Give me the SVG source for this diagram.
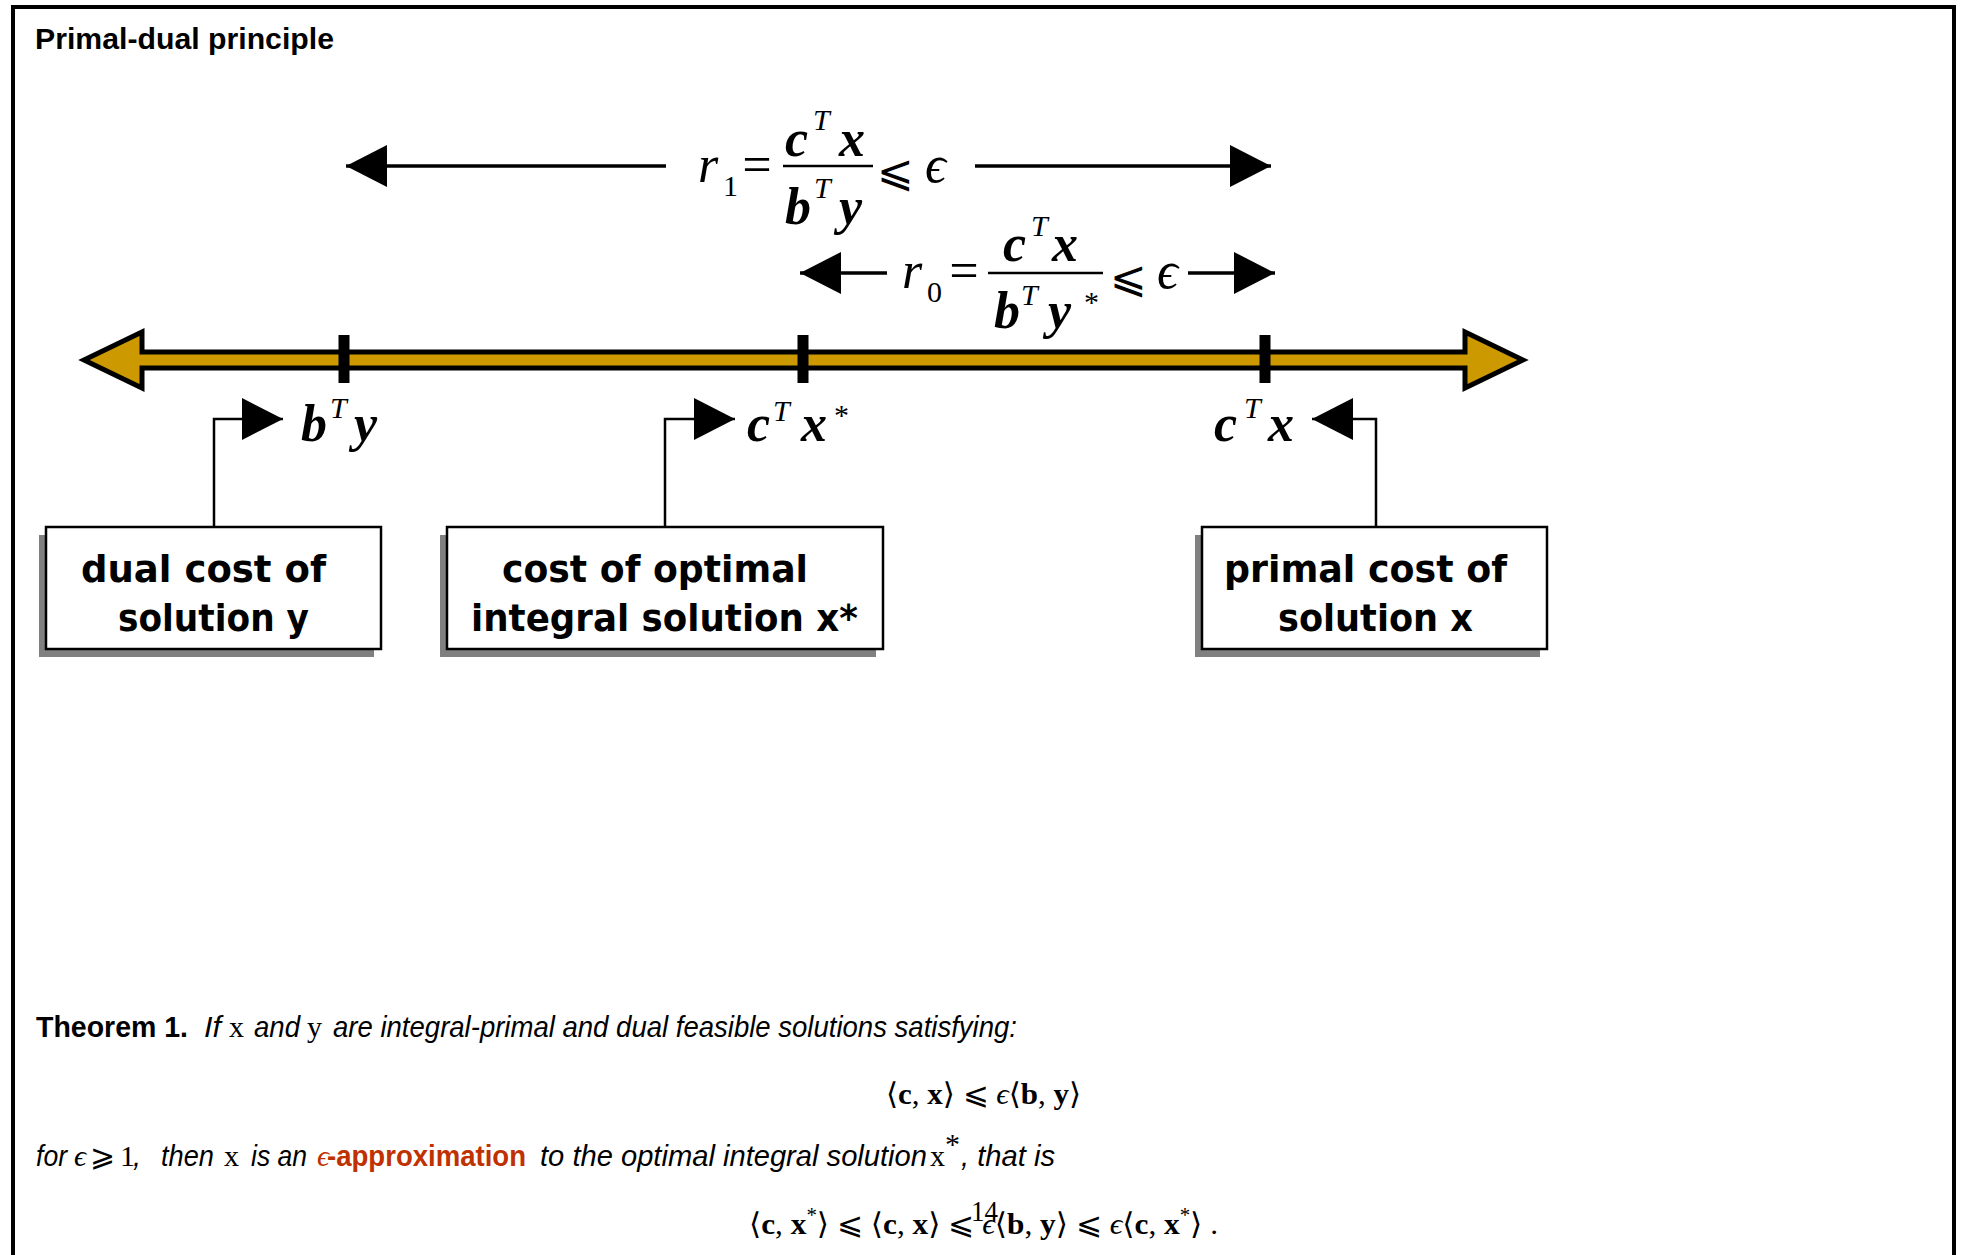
<svg xmlns="http://www.w3.org/2000/svg" width="1964" height="1255" viewBox="0 0 1964 1255">
<defs>
<marker id="ah" viewBox="0 0 41 42" refX="41" refY="21" markerWidth="41" markerHeight="42" markerUnits="userSpaceOnUse" orient="auto">
<path d="M0 0 L41 21 L0 42 Z" fill="#000"/>
</marker>
<style>
.mb{font-family:"Liberation Serif","DejaVu Serif",serif;font-style:italic;font-weight:bold;font-size:52px;fill:#000}
.mi{font-family:"Liberation Serif","DejaVu Serif",serif;font-style:italic;font-size:52px;fill:#000}
.sup{font-family:"Liberation Serif","DejaVu Serif",serif;font-style:italic;font-size:30px;fill:#000}
.sub{font-family:"Liberation Serif","DejaVu Serif",serif;font-size:30px;fill:#000}
.rel{font-family:"DejaVu Serif","DejaVu Sans",serif;font-size:44px;fill:#000}
.box{fill:#fff;stroke:#000;stroke-width:2.5}
.shadow{fill:#808080}
.lbl{font-family:"Comic Sans MS","DejaVu Sans",sans-serif;font-weight:bold;font-size:38px;fill:#000}
.conn{fill:none;stroke:#000;stroke-width:2.5}
.dim{fill:none;stroke:#000;stroke-width:3.5}
.bar{stroke:#000;stroke-width:2.5}
.tick{fill:#000}
.it{font-family:"Liberation Sans","DejaVu Sans",sans-serif;font-style:italic;font-size:29px;fill:#000}
.bd{font-family:"Liberation Sans","DejaVu Sans",sans-serif;font-weight:bold;font-size:29px;fill:#000}
.sm{font-family:"Liberation Serif","DejaVu Serif",serif;font-size:30px;fill:#000}
.red{fill:#BF3100}
</style>
</defs>
<rect width="1964" height="1255" fill="#fff"/>
<path d="M13 1255 V7 H1954 V1255" fill="none" stroke="#000" stroke-width="4"/>
<text id="title" class="bd" x="35" y="49" font-size="30" textLength="299" lengthAdjust="spacingAndGlyphs">Primal-dual principle</text>

<g id="axis">
<path d="M84 360 L142 332 L142 352 L1465 352 L1465 332 L1523 360 L1465 388 L1465 368 L142 368 L142 388 Z" fill="#CC9900" stroke="#000" stroke-width="5" stroke-linejoin="miter"/>
<rect class="tick" x="338.5" y="335" width="11" height="48"/>
<rect class="tick" x="797.5" y="335" width="11" height="48"/>
<rect class="tick" x="1259.5" y="335" width="11" height="48"/>
</g>

<g id="connectors">
<line class="dim" x1="666" y1="166" x2="346" y2="166" marker-end="url(#ah)"/>
<line class="dim" x1="975" y1="166" x2="1271" y2="166" marker-end="url(#ah)"/>
<line class="dim" x1="887" y1="273" x2="800" y2="273" marker-end="url(#ah)"/>
<line class="dim" x1="1188" y1="273" x2="1275" y2="273" marker-end="url(#ah)"/>
<path class="conn" d="M214 527 V419 H283" marker-end="url(#ah)"/>
<path class="conn" d="M665 527 V419 H735" marker-end="url(#ah)"/>
<path class="conn" d="M1376 527 V419 H1312" marker-end="url(#ah)"/>
</g>

<g id="r1">
<text class="mi" x="698" y="182">r</text>
<text class="sub" x="723" y="196">1</text>
<text class="mi" x="739" y="182" font-style="normal" font-size="58">=</text>
<line class="bar" x1="783" y1="166" x2="873" y2="166"/>
<text class="mb" x="785" y="156">c</text>
<text class="sup" x="813" y="130">T</text>
<text class="mb" x="839" y="156">x</text>
<text class="mb" x="785" y="224">b</text>
<text class="sup" x="814" y="198">T</text>
<text class="mb" x="839" y="224">y</text>
<text class="rel" x="877" y="186">⩽</text>
<text class="mi" x="925" y="182">ϵ</text>
</g>

<g id="r0">
<text class="mi" x="902" y="288">r</text>
<text class="sub" x="927" y="302">0</text>
<text class="mi" x="946" y="288" font-style="normal" font-size="58">=</text>
<line class="bar" x1="988" y1="273" x2="1103" y2="273"/>
<text class="mb" x="1003" y="261">c</text>
<text class="sup" x="1031" y="236">T</text>
<text class="mb" x="1052" y="261">x</text>
<text class="mb" x="994" y="328">b</text>
<text class="sup" x="1021" y="305">T</text>
<text class="mb" x="1048" y="328">y</text>
<text class="sub" x="1084" y="312">*</text>
<text class="rel" x="1110" y="292">⩽</text>
<text class="mi" x="1157" y="288">ϵ</text>
</g>

<g id="lbl-dual">
<text class="mb" x="301" y="441">b</text>
<text class="sup" x="330" y="418">T</text>
<text class="mb" x="354" y="441">y</text>
</g>
<g id="lbl-opt">
<text class="mb" x="747" y="441">c</text>
<text class="sup" x="773" y="421">T</text>
<text class="mb" x="801" y="441">x</text>
<text class="sub" x="834" y="425">*</text>
</g>
<g id="lbl-primal">
<text class="mb" x="1214" y="441">c</text>
<text class="sup" x="1244" y="418">T</text>
<text class="mb" x="1268" y="441">x</text>
</g>

<g id="node-dual">
<rect class="shadow" x="39" y="535" width="335" height="122"/>
<rect class="box" x="46" y="527" width="335" height="122"/>
<text class="lbl" x="81" y="582" textLength="245" lengthAdjust="spacingAndGlyphs">dual cost of</text>
<text class="lbl" x="118" y="631" textLength="191" lengthAdjust="spacingAndGlyphs">solution y</text>
</g>
<g id="node-opt">
<rect class="shadow" x="440" y="535" width="436" height="122"/>
<rect class="box" x="447" y="527" width="436" height="122"/>
<text class="lbl" x="502" y="582" textLength="306" lengthAdjust="spacingAndGlyphs">cost of optimal</text>
<text class="lbl" x="471" y="631" textLength="387" lengthAdjust="spacingAndGlyphs">integral solution x*</text>
</g>
<g id="node-primal">
<rect class="shadow" x="1195" y="535" width="345" height="122"/>
<rect class="box" x="1202" y="527" width="345" height="122"/>
<text class="lbl" x="1224" y="582" textLength="283" lengthAdjust="spacingAndGlyphs">primal cost of</text>
<text class="lbl" x="1278" y="631" textLength="195" lengthAdjust="spacingAndGlyphs">solution x</text>
</g>

<g id="theorem">
<text class="bd" x="36" y="1037" textLength="152" lengthAdjust="spacingAndGlyphs">Theorem 1.</text>
<text class="it" x="204" y="1037" textLength="17" lengthAdjust="spacingAndGlyphs">If</text>
<text class="sm" x="229" y="1037">x</text>
<text class="it" x="254" y="1037" textLength="46" lengthAdjust="spacingAndGlyphs">and</text>
<text class="sm" x="307" y="1037">y</text>
<text class="it" x="333" y="1037" textLength="684" lengthAdjust="spacingAndGlyphs">are integral-primal and dual feasible solutions satisfying:</text>

<text class="sm" x="886" y="1104" textLength="195" lengthAdjust="spacingAndGlyphs">⟨<tspan font-weight="bold">c</tspan>, <tspan font-weight="bold">x</tspan>⟩ ⩽ <tspan font-style="italic">ϵ</tspan>⟨<tspan font-weight="bold">b</tspan>, <tspan font-weight="bold">y</tspan>⟩</text>

<text class="it" x="36" y="1166" textLength="31" lengthAdjust="spacingAndGlyphs">for</text>
<text class="sm" x="74" y="1166" font-style="italic">ϵ</text>
<text class="sm" x="90" y="1166">⩾</text>
<text class="sm" x="120" y="1166">1</text>
<text class="it" x="133" y="1166">,</text>
<text class="it" x="161" y="1166" textLength="53" lengthAdjust="spacingAndGlyphs">then</text>
<text class="sm" x="224" y="1166">x</text>
<text class="it" x="251" y="1166" textLength="56" lengthAdjust="spacingAndGlyphs">is an</text>
<text class="sm red" x="317" y="1166" font-style="italic">ϵ</text>
<text class="bd red" x="327" y="1166" textLength="199" lengthAdjust="spacingAndGlyphs">-approximation</text>
<text class="it" x="540" y="1166" textLength="387" lengthAdjust="spacingAndGlyphs">to the optimal integral solution</text>
<text class="sm" x="930" y="1166">x</text>
<text class="sm" x="945" y="1154" font-size="20">*</text>
<text class="it" x="961" y="1166" textLength="94" lengthAdjust="spacingAndGlyphs">, that is</text>

<text class="sm" x="749" y="1234" textLength="469" lengthAdjust="spacingAndGlyphs">⟨<tspan font-weight="bold">c</tspan>, <tspan font-weight="bold">x</tspan><tspan font-size="20" dy="-12">*</tspan><tspan dy="12">⟩ ⩽ ⟨</tspan><tspan font-weight="bold">c</tspan>, <tspan font-weight="bold">x</tspan>⟩ ⩽ <tspan font-style="italic">ϵ</tspan>⟨<tspan font-weight="bold">b</tspan>, <tspan font-weight="bold">y</tspan>⟩ ⩽ <tspan font-style="italic">ϵ</tspan>⟨<tspan font-weight="bold">c</tspan>, <tspan font-weight="bold">x</tspan><tspan font-size="20" dy="-12">*</tspan><tspan dy="12">⟩ .</tspan></text>
<text class="sm" x="971" y="1221" font-size="28" textLength="27" lengthAdjust="spacingAndGlyphs">14</text>
</g>
</svg>
